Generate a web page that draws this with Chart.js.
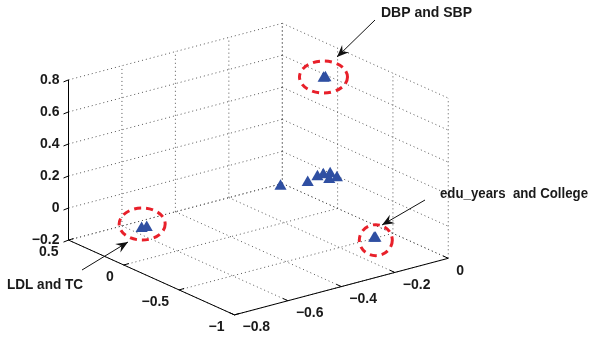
<!DOCTYPE html>
<html>
<head>
<meta charset="utf-8">
<script src="https://cdn.jsdelivr.net/npm/chart.js@4.4.0/dist/chart.umd.min.js"></script>
<style>
  html, body { margin: 0; padding: 0; background: #fff; }
  #wrap { width: 589px; height: 343px; }
</style>
</head>
<body>
<div id="wrap"><canvas id="myChart" width="589" height="343"></canvas></div>
<script>
// loadings, one entry per variable
const varNames = ["DBP", "SBP", "LDL", "TC", "edu_years", "College", "v7", "v8", "v9", "v10", "v11", "v12", "v13"];
const xVals = [-0.141, -0.146, -0.651, -0.634, -0.153, -0.150, -0.270, -0.186, -0.133, -0.109, -0.088, -0.092, -0.120];
const yVals = [-0.230, -0.226, 0.199, 0.194, -0.700, -0.704, -0.136, -0.179, -0.139, -0.134, -0.145, -0.216, -0.214];
const zVals = [0.750, 0.747, -0.100, -0.100, -0.100, -0.100, 0.100, 0.100, 0.100, 0.100, 0.100, 0.100, 0.100];

const xTicks = [-0.8, -0.6, -0.4, -0.2, 0];
const yTicks = [0.5, 0, -0.5, -1];
const zTicks = [-0.2, 0, 0.2, 0.4, 0.6, 0.8];

// callouts: which points they circle and their text
const notes = [
  { idx: [0, 1], text: "DBP and SBP" },
  { idx: [2, 3], text: "LDL and TC" },
  { idx: [4, 5], text: "edu_years  and College" }
];

// view: screen corners of the floor box (x=-0.8,y=0.5), (x=-0.8,y=-1), (x=0,y=-1) and z height
const cornerA = [63, 243], cornerB = [233, 321], cornerC = [452, 262];
const zHeight = 167;
const xMin = -0.8, xMax = 0, yMin = -1, yMax = 0.5, zMin = -0.2, zMax = 0.8;

function proj(x, y, z) {
  const fx = (x - xMin) / (xMax - xMin);
  const fy = (yMax - y) / (yMax - yMin);
  const fz = (z - zMin) / (zMax - zMin);
  return {
    x: cornerA[0] + fx * (cornerC[0] - cornerB[0]) + fy * (cornerB[0] - cornerA[0]),
    y: cornerA[1] + fx * (cornerC[1] - cornerB[1]) + fy * (cornerB[1] - cornerA[1]) - fz * zHeight
  };
}

const fmt = v => (v < 0 ? "\u2212" : "") + String(Math.abs(v));

const boxPlugin = {
  id: "box3d",
  beforeDatasetsDraw(chart) {
    const ctx = chart.ctx;
    const sx = chart.scales.x, sy = chart.scales.y;
    const P = (x, y, z) => { const p = proj(x, y, z); return [sx.getPixelForValue(p.x), sy.getPixelForValue(p.y)]; };
    const seg = (a, b) => { ctx.beginPath(); ctx.moveTo(a[0], a[1]); ctx.lineTo(b[0], b[1]); ctx.stroke(); };

    ctx.save();
    // dotted grid on floor and the two back walls
    ctx.strokeStyle = "#555";
    ctx.lineWidth = 1;
    ctx.setLineDash([1, 3]);
    xTicks.forEach(t => {
      seg(P(t, yMax, zMin), P(t, yMin, zMin));
      seg(P(t, yMax, zMin), P(t, yMax, zMax));
    });
    yTicks.forEach(t => {
      seg(P(xMin, t, zMin), P(xMax, t, zMin));
      seg(P(xMax, t, zMin), P(xMax, t, zMax));
    });
    zTicks.forEach(t => {
      seg(P(xMin, yMax, t), P(xMax, yMax, t));
      seg(P(xMax, yMax, t), P(xMax, yMin, t));
    });

    // axis lines
    ctx.setLineDash([]);
    ctx.strokeStyle = "#000";
    seg(P(xMin, yMax, zMin), P(xMin, yMin, zMin));
    seg(P(xMin, yMin, zMin), P(xMax, yMin, zMin));
    seg(P(xMin, yMax, zMin), P(xMin, yMax, zMax));

    ctx.fillStyle = "#1a1a1a";
    ctx.font = "bold 14px 'Liberation Sans', Arial, sans-serif";
    ctx.textBaseline = "middle";

    // z ticks
    ctx.textAlign = "right";
    zTicks.forEach(t => {
      const p = P(xMin, yMax, t);
      seg(p, [p[0] - 5, p[1] + 2]);
      ctx.fillText(fmt(t), p[0] - 9, p[1]);
    });
    // y ticks
    yTicks.forEach(t => {
      const p = P(xMin, t, zMin);
      seg(p, [p[0] + 5, p[1] - 1.5]);
      ctx.fillText(fmt(t), p[0] - 10, p[1] + 12);
    });
    // x ticks
    ctx.textAlign = "left";
    xTicks.forEach(t => {
      const p = P(t, yMin, zMin);
      seg(p, [p[0] - 5, p[1] - 2.3]);
      ctx.fillText(fmt(t), p[0] + 8, p[1] + 12.5);
    });
    ctx.restore();
  },
  afterDatasetsDraw(chart) {
    const ctx = chart.ctx;
    const sx = chart.scales.x, sy = chart.scales.y;
    const centre = idx => {
      let x = 0, y = 0;
      idx.forEach(i => { const p = proj(xVals[i], yVals[i], zVals[i]); x += p.x; y += p.y; });
      return [sx.getPixelForValue(x / idx.length), sy.getPixelForValue(y / idx.length)];
    };
    const ellipse = [
      { dx: -1, dy: -1, rx: 24, ry: 16 },
      { dx: -2, dy: -4, rx: 23, ry: 16 },
      { dx: 1, dy: 2, rx: 16.5, ry: 15.5 }
    ];
    const arrows = [
      { from: [375, 20], to: [337, 57], label: [381, 13], maxW: 95 },
      { from: [82, 270], to: [128, 242], label: [7, 285], maxW: 76 },
      { from: [425, 200], to: [382, 225], label: [440, 194], maxW: 148 }
    ];
    ctx.save();
    notes.forEach((n, k) => {
      const c = centre(n.idx);
      const e = ellipse[k];
      ctx.strokeStyle = "#e8202a";
      ctx.lineWidth = 3;
      ctx.setLineDash([7, 5]);
      ctx.beginPath();
      ctx.ellipse(c[0] + e.dx, c[1] + e.dy, e.rx, e.ry, 0, 0, Math.PI * 2);
      ctx.stroke();

      const a = arrows[k];
      ctx.setLineDash([]);
      ctx.strokeStyle = "#111";
      ctx.fillStyle = "#111";
      ctx.lineWidth = 1;
      ctx.beginPath();
      ctx.moveTo(a.from[0], a.from[1]);
      ctx.lineTo(a.to[0], a.to[1]);
      ctx.stroke();
      const ang = Math.atan2(a.to[1] - a.from[1], a.to[0] - a.from[0]);
      const L = 12, W = 5;
      const bx = a.to[0] - L * Math.cos(ang), by = a.to[1] - L * Math.sin(ang);
      const nx = a.to[0] - L * 0.65 * Math.cos(ang), ny = a.to[1] - L * 0.65 * Math.sin(ang);
      ctx.beginPath();
      ctx.moveTo(a.to[0], a.to[1]);
      ctx.lineTo(bx - W * Math.sin(ang), by + W * Math.cos(ang));
      ctx.lineTo(nx, ny);
      ctx.lineTo(bx + W * Math.sin(ang), by - W * Math.cos(ang));
      ctx.closePath();
      ctx.fill();

      ctx.fillStyle = "#1a1a1a";
      ctx.font = "bold 14px 'Liberation Sans', Arial, sans-serif";
      ctx.textAlign = "left";
      ctx.textBaseline = "middle";
      ctx.fillText(n.text, a.label[0], a.label[1], a.maxW);
    });
    ctx.restore();
  }
};

const ctx = document.getElementById("myChart").getContext("2d");
const points = xVals.map((x, i) => proj(x, yVals[i], zVals[i]));

new Chart(ctx, {
  type: "scatter",
  data: {
    datasets: [{
      label: "loadings",
      data: points,
      pointStyle: "triangle",
      pointRadius: 7,
      pointHoverRadius: 7,
      backgroundColor: "#2f4fa2",
      borderColor: "#2f4fa2",
      borderWidth: 0
    }]
  },
  options: {
    responsive: false,
    animation: false,
    layout: { padding: 0 },
    plugins: { legend: { display: false }, tooltip: { enabled: false } },
    scales: {
      x: { type: "linear", min: 0, max: 589, display: false },
      y: { type: "linear", min: 0, max: 343, reverse: true, display: false }
    }
  },
  plugins: [boxPlugin]
});
</script>
</body>
</html>
